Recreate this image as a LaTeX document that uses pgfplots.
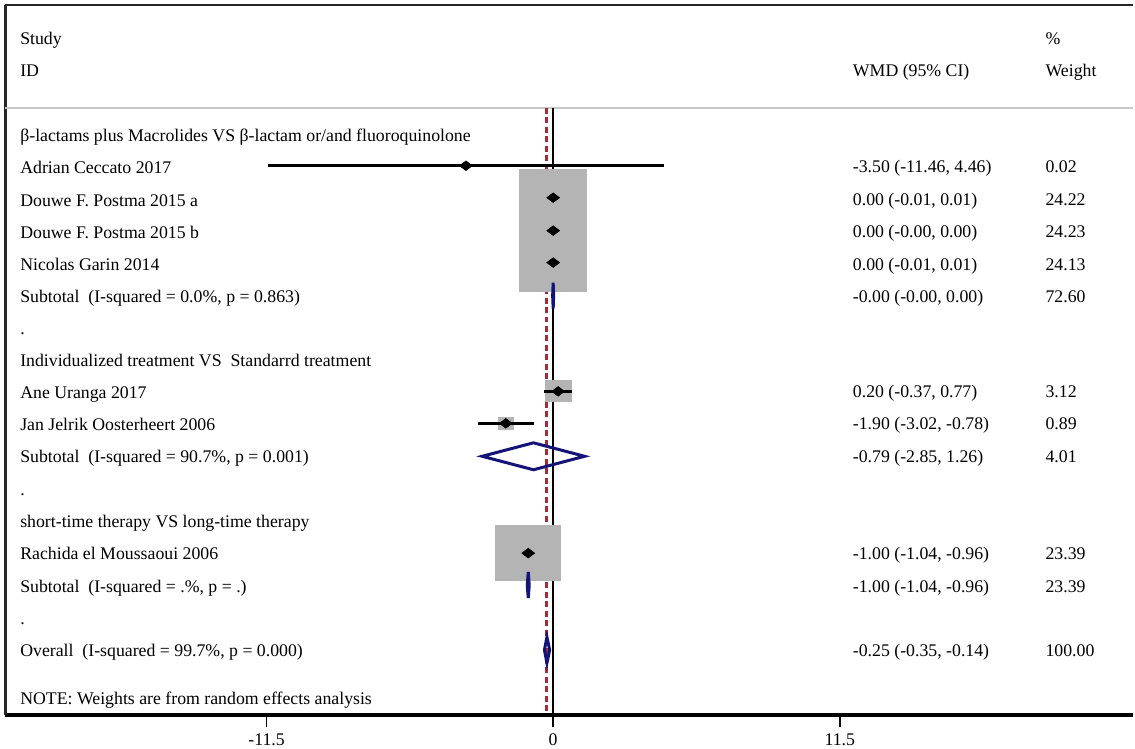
\documentclass[border=0pt]{standalone}
\usepackage{fontspec}
\setmainfont{Liberation Serif}
\usepackage{pgfplots}
\pgfplotsset{compat=1.18}
\definecolor{boxgray}{RGB}{180,180,180}
\definecolor{dnavy}{RGB}{20,20,120}
\definecolor{dred}{RGB}{160,45,55}
\definecolor{sepgray}{RGB}{200,200,200}
\newcommand\f{\fontsize{17.8}{21}\selectfont}
\begin{document}
\begin{tikzpicture}[txt/.style={anchor=west, inner sep=0pt, font=\f, text height=15pt, text depth=2pt}]
\begin{axis}[
  scale only axis, width=1130pt, height=711pt,
  xmin=-21.995, xmax=23.277, ymin=-716, ymax=-5,
  axis x line*=bottom, axis y line=none,
  x axis line style={line width=3.5pt,-},
  xtick={-11.5,0,11.5}, xticklabels={-11.5,0,11.5},
  tick align=outside, major tick length=12pt,
  tick style={black,line width=1.5pt},
  x tick label style={font=\f, anchor=north, yshift=-3pt},
  /pgf/number format/assume math mode=true,
  clip=false,
]
% bounding box
\path (axis cs:-22.196,0) rectangle (axis cs:23.277,-749);
% frame
\draw[line width=2.2pt, black!85] (axis cs:-21.995,-5) -- (axis cs:23.277,-5);
\draw[line width=3pt, black!85] (axis cs:-21.995,-5) -- (axis cs:-21.995,-716);
\draw[line width=1.8pt, sepgray] (axis cs:-21.995,-108) -- (axis cs:23.277,-108);
% reference lines
\addplot[black, line width=2.4pt] coordinates {(0,-108) (0,-716)};
\addplot[dred, line width=3pt, dash pattern=on 6pt off 3.5pt] coordinates {(-0.25,-108) (-0.25,-716)};
% weight boxes
\addplot[fill=boxgray, draw=none] coordinates {(-1.36,-169) (1.36,-169) (1.36,-229) (-1.36,-229)} -- cycle;
\addplot[fill=boxgray, draw=none] coordinates {(-1.36,-201) (1.36,-201) (1.36,-261) (-1.36,-261)} -- cycle;
\addplot[fill=boxgray, draw=none] coordinates {(-1.36,-236) (1.36,-236) (1.36,-292) (-1.36,-292)} -- cycle;
\addplot[fill=boxgray, draw=none] coordinates {(-0.34,-381) (0.74,-381) (0.74,-403) (-0.34,-403)} -- cycle;
\addplot[fill=boxgray, draw=none] coordinates {(-2.22,-418) (-1.58,-418) (-1.58,-431) (-2.22,-431)} -- cycle;
\addplot[fill=boxgray, draw=none] coordinates {(-2.32,-526) (0.32,-526) (0.32,-582) (-2.32,-582)} -- cycle;
% confidence intervals
\addplot[black, line width=2.6pt] coordinates {(-11.46,-166) (4.46,-166)};
\addplot[black, line width=2.6pt] coordinates {(-0.37,-392) (0.77,-392)};
\addplot[black, line width=2.6pt] coordinates {(-3.02,-424) (-0.78,-424)};
% point estimates
\addplot[only marks, mark=diamond*, mark size=6.5pt, mark options={rotate=90, fill=black, draw=black, line width=0.5pt}] coordinates {(-3.5,-166) (0,-198) (0,-231) (0,-263) (0.2,-392) (-1.9,-424) (-1,-554)};
% pooled diamonds
\addplot[dnavy, line width=3pt] coordinates {(-0.02,-296) (0,-283) (0.02,-296) (0,-309)} -- cycle;
\addplot[dnavy, line width=3pt] coordinates {(-2.85,-457) (-0.79,-443.5) (1.26,-457) (-0.79,-470.5)} -- cycle;
\addplot[dnavy, line width=3pt] coordinates {(-1.04,-586) (-1.00,-573) (-0.96,-586) (-1.00,-599)} -- cycle;
\addplot[dnavy, line width=3pt] coordinates {(-0.35,-651) (-0.25,-638) (-0.14,-651) (-0.25,-664)} -- cycle;
% text columns
\def\xa{-21.39}\def\xb{12.02}\def\xc{19.75}
\node[txt] at (axis cs:\xa,-38) {Study};
\node[txt] at (axis cs:\xa,-70) {ID};
\node[txt] at (axis cs:\xb,-70) {WMD (95\% CI)};
\node[txt] at (axis cs:\xc,-38) {\%};
\node[txt] at (axis cs:\xc,-70) {Weight};
\node[txt] at (axis cs:\xa,-135) {β-lactams plus Macrolides VS β-lactam or/and fluoroquinolone};
\node[txt] at (axis cs:\xa,-167) {Adrian Ceccato 2017};
\node[txt] at (axis cs:\xb,-166) {-3.50 (-11.46, 4.46)};
\node[txt] at (axis cs:\xc,-166) {0.02};
\node[txt] at (axis cs:\xa,-200) {Douwe F. Postma 2015 a};
\node[txt] at (axis cs:\xb,-199) {0.00 (-0.01, 0.01)};
\node[txt] at (axis cs:\xc,-199) {24.22};
\node[txt] at (axis cs:\xa,-232) {Douwe F. Postma 2015 b};
\node[txt] at (axis cs:\xb,-231) {0.00 (-0.00, 0.00)};
\node[txt] at (axis cs:\xc,-231) {24.23};
\node[txt] at (axis cs:\xa,-264) {Nicolas Garin 2014};
\node[txt] at (axis cs:\xb,-264) {0.00 (-0.01, 0.01)};
\node[txt] at (axis cs:\xc,-264) {24.13};
\node[txt] at (axis cs:\xa,-296) {Subtotal\ \ (I-squared = 0.0\%, p = 0.863)};
\node[txt] at (axis cs:\xb,-296) {-0.00 (-0.00, 0.00)};
\node[txt] at (axis cs:\xc,-296) {72.60};
\node[txt] at (axis cs:\xa,-329) {.};
\node[txt] at (axis cs:\xa,-361) {Individualized treatment VS\ \ Standarrd treatment};
\node[txt] at (axis cs:\xa,-393) {Ane Uranga 2017};
\node[txt] at (axis cs:\xb,-392) {0.20 (-0.37, 0.77)};
\node[txt] at (axis cs:\xc,-392) {3.12};
\node[txt] at (axis cs:\xa,-425) {Jan Jelrik Oosterheert 2006};
\node[txt] at (axis cs:\xb,-424) {-1.90 (-3.02, -0.78)};
\node[txt] at (axis cs:\xc,-424) {0.89};
\node[txt] at (axis cs:\xa,-457) {Subtotal\ \ (I-squared = 90.7\%, p = 0.001)};
\node[txt] at (axis cs:\xb,-457) {-0.79 (-2.85, 1.26)};
\node[txt] at (axis cs:\xc,-457) {4.01};
\node[txt] at (axis cs:\xa,-490) {.};
\node[txt] at (axis cs:\xa,-522) {short-time therapy VS long-time therapy};
\node[txt] at (axis cs:\xa,-554) {Rachida el Moussaoui 2006};
\node[txt] at (axis cs:\xb,-554) {-1.00 (-1.04, -0.96)};
\node[txt] at (axis cs:\xc,-554) {23.39};
\node[txt] at (axis cs:\xa,-587) {Subtotal\ \ (I-squared = .\%, p = .)};
\node[txt] at (axis cs:\xb,-587) {-1.00 (-1.04, -0.96)};
\node[txt] at (axis cs:\xc,-587) {23.39};
\node[txt] at (axis cs:\xa,-619) {.};
\node[txt] at (axis cs:\xa,-651) {Overall\ \ (I-squared = 99.7\%, p = 0.000)};
\node[txt] at (axis cs:\xb,-651) {-0.25 (-0.35, -0.14)};
\node[txt] at (axis cs:\xc,-651) {100.00};
\node[txt] at (axis cs:\xa,-699) {NOTE: Weights are from random effects analysis};
\end{axis}
\end{tikzpicture}
\end{document}
